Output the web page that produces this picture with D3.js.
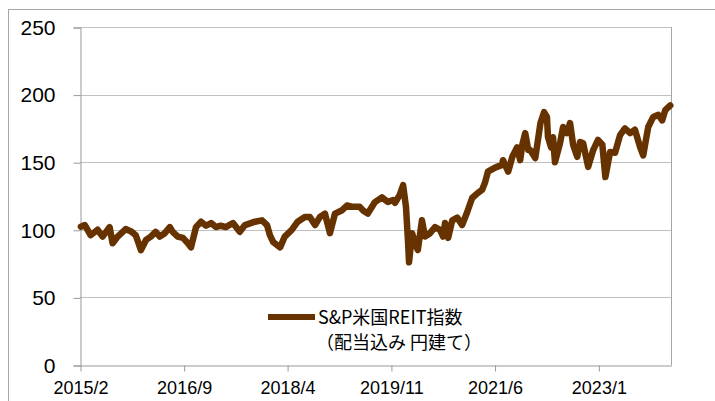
<!DOCTYPE html>
<html>
<head>
<meta charset="utf-8">
<script src="https://cdn.jsdelivr.net/npm/d3@7"></script>
<style>
  body { margin: 0; background: #fff; }
  svg text { font-family: "Liberation Sans", Arial, sans-serif; fill: #000; }
  .legend text { font-family: "Noto Sans CJK JP", sans-serif; }
</style>
</head>
<body>
<svg id="chart" width="715" height="401"></svg>
<script>
// S&P US REIT index (dividends reinvested, JPY)
const dates = [
  '2015-02-06','2015-02-28','2015-04-01','2015-05-10','2015-06-07','2015-07-16','2015-08-02','2015-08-30',
  '2015-10-14','2015-11-11','2015-12-09','2016-01-07','2016-02-04','2016-03-02','2016-03-29','2016-04-21',
  '2016-05-19','2016-06-16','2016-07-02','2016-07-30','2016-08-28','2016-09-25','2016-10-12','2016-11-09',
  '2016-12-07','2017-01-04','2017-02-01','2017-02-28','2017-03-27','2017-04-24','2017-06-03','2017-07-11',
  '2017-08-09','2017-10-04','2017-11-12','2017-12-10','2017-12-26','2018-01-13','2018-02-21','2018-03-19',
  '2018-04-27','2018-05-30','2018-07-09','2018-08-06','2018-09-04','2018-10-01','2018-10-29','2018-11-26',
  '2018-12-24','2019-02-02','2019-03-01','2019-04-02','2019-05-11','2019-05-28','2019-06-25','2019-08-04',
  '2019-09-12','2019-10-15','2019-11-13','2019-11-24','2019-12-21','2020-01-08','2020-01-24','2020-02-05',
  '2020-02-10','2020-02-27','2020-03-14','2020-03-30','2020-04-22','2020-05-09','2020-06-06','2020-07-04',
  '2020-08-01','2020-08-18','2020-08-29','2020-09-15','2020-10-08','2020-11-05','2020-12-02','2020-12-30',
  '2021-01-27','2021-02-25','2021-03-23','2021-04-09','2021-04-25','2021-06-04','2021-07-13','2021-07-18',
  '2021-08-16','2021-09-08','2021-10-05','2021-10-22','2021-11-03','2021-11-19','2021-12-06','2021-12-17',
  '2022-01-14','2022-02-12','2022-03-04','2022-03-20','2022-03-26','2022-04-12','2022-04-23','2022-05-04',
  '2022-06-01','2022-06-18','2022-07-10','2022-07-27','2022-08-13','2022-09-05','2022-09-21','2022-10-08',
  '2022-11-05','2022-12-03','2022-12-30','2023-01-23','2023-02-09','2023-03-07','2023-04-04','2023-05-02',
  '2023-05-29','2023-06-27','2023-07-24','2023-08-22','2023-09-08','2023-10-06','2023-11-03','2023-12-01',
  '2023-12-23','2024-01-09','2024-02-06'
];
const values = [
  102.3,103.5,96,100,95,102,90,95,
  100.5,99,96,85,92.5,95,98.5,95,
  97.5,102,98.5,95,94,90,87,102,
  106,103,105,102,103,102,105,98.5,
  103.5,106,107,103.5,96,91,87,95,
  100,106,109.5,109.5,103.5,109.5,112,97.5,
  112,114.5,118,117,117,114.5,112,120.5,
  124,120.5,122,120,126,133,117,90,
  76,97.5,90,85,107,95,97.5,102,
  100,95,105,94,107,109,103.5,113,
  123.5,127,129.5,135,143,146,148,151.5,
  143,154,161,151.5,163,171.5,159,159,
  153,179,187,183.5,168.5,161,168.5,150,
  164,176,171.5,179,163,154,165,164,
  146.5,159,166.5,163,139,157.5,157,170,
  175,171.5,174,161,155,176,183.5,185,
  181,188.5,192
];
const yTicks = [0, 50, 100, 150, 200, 250];
const xTickLabels = ['2015/2', '2016/9', '2018/4', '2019/11', '2021/6', '2023/1'];
const xTickDates = ['2015-02-01', '2016-09-01', '2018-04-01', '2019-11-01', '2021-06-01', '2023-01-01'];
const seriesName = ['S&P米国REIT指数', '（配当込み 円建て）'];

const parse = d3.timeParse('%Y-%m-%d');
const data = dates.map((d, i) => ({ date: parse(d), value: values[i] }));

const svg = d3.select('#chart');
const plotLeft = 80, plotRight = 671, plotTop = 27, plotBottom = 365;

const x = d3.scaleTime()
  .domain([parse('2015-02-01'), parse('2024-02-10')])
  .range([plotLeft, plotRight]);
const y = d3.scaleLinear().domain([0, 250]).range([plotBottom, plotTop]);

// outer chart frame (partly cropped)
svg.append('rect')
  .attr('x', 8.5).attr('y', 9.5).attr('width', 720).attr('height', 400)
  .attr('fill', 'none').attr('stroke', '#a6a6a6');

// gridlines
svg.append('g')
  .selectAll('line')
  .data(yTicks.filter(t => t > 0))
  .enter()
  .append('line')
  .attr('x1', plotLeft).attr('x2', plotRight)
  .attr('y1', d => Math.round(y(d)) + 0.5)
  .attr('y2', d => Math.round(y(d)) + 0.5)
  .attr('stroke', '#c0c0c0');

// plot border right side
svg.append('line')
  .attr('x1', plotRight + 0.5).attr('x2', plotRight + 0.5)
  .attr('y1', plotTop).attr('y2', plotBottom)
  .attr('stroke', '#a6a6a6');

// y axis
const yAxis = svg.append('g')
  .attr('transform', `translate(${plotLeft + 0.5},0.5)`)
  .call(d3.axisLeft(y).tickValues(yTicks).tickSize(7).tickPadding(18));
yAxis.selectAll('path, line').attr('stroke', '#999');
yAxis.selectAll('text').attr('font-size', 21).attr('font-family', '"Liberation Sans", sans-serif');

// x axis
const xAxis = svg.append('g')
  .attr('transform', `translate(0.5,${plotBottom + 0.5})`)
  .call(d3.axisBottom(x)
    .tickValues(xTickDates.map(parse))
    .tickFormat((d, i) => xTickLabels[i])
    .tickSize(6).tickSizeOuter(0).tickPadding(10));
xAxis.selectAll('path, line').attr('stroke', '#999');
xAxis.selectAll('text').attr('font-size', 18).attr('font-family', '"Liberation Sans", sans-serif');

// series line
svg.append('path')
  .datum(data)
  .attr('d', d3.line().x(d => x(d.date)).y(d => y(d.value)))
  .attr('fill', 'none')
  .attr('stroke', '#663300')
  .attr('stroke-width', 6.5)
  .attr('stroke-linejoin', 'round')
  .attr('stroke-linecap', 'round');

// legend
const legend = svg.append('g').attr('class', 'legend');
legend.append('line')
  .attr('x1', 268).attr('x2', 315)
  .attr('y1', 317).attr('y2', 317)
  .attr('stroke', '#663300').attr('stroke-width', 6);
legend.append('text')
  .attr('x', 318).attr('y', 324)
  .attr('font-size', 18)
  .text(seriesName[0]);
legend.append('text')
  .attr('x', 316).attr('y', 349)
  .attr('font-size', 18)
  .text(seriesName[1]);
</script>
</body>
</html>
